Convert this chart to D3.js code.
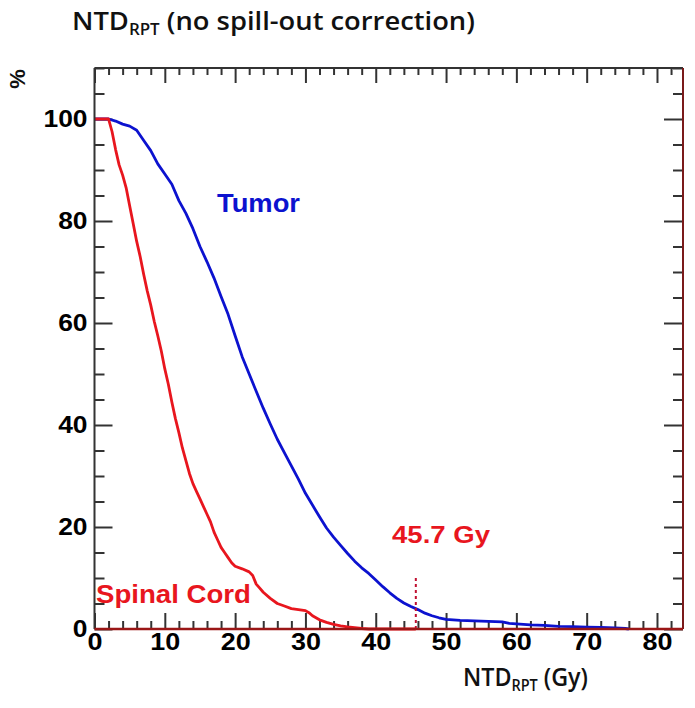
<!DOCTYPE html>
<html><head><meta charset="utf-8">
<script src="https://cdn.jsdelivr.net/npm/d3@7"></script>
<style>body{margin:0;background:#fff}</style>
</head><body>
<svg id="c" width="695" height="708"></svg>
<script>
// ---- data ----
const tumorDose = [0,1,2,3,4,5,6,7,8,9,10,11,12,13,14,15,16,17,18,19,20,21,22,23,24,25,26,27,28,29,30,31,32,33,34,35,36,37,38,39,40,41,42,43,44,45,46,47,48,49,50,52,54,56,58,59,60,62,64,66,68,70,72,74,75.5,76];
const tumorPct  = [100,100,100,99.6,99,98.6,97.8,95.8,93.8,91.2,89.2,87.2,84,81.5,78.5,75,72,68.8,65.2,61.7,57.5,53.4,50,46.6,43.3,40.2,37.2,34.6,32,29.4,26.6,24.3,22,19.8,18,16.4,14.8,13.3,12,10.9,9.6,8.3,7.1,6.0,5.1,4.4,3.8,3.1,2.6,2.2,1.9,1.7,1.6,1.5,1.4,1.1,1.0,0.8,0.7,0.5,0.45,0.35,0.3,0.2,0.1,0];
const cordDose = [0,1,2,2.5,3,3.5,4,4.5,5,5.5,6,6.5,7,7.5,8,8.5,9,9.5,10,10.5,11,11.5,12,12.5,13,13.5,14,14.5,15,15.5,16,16.5,17,17.5,18,18.5,19,19.5,20,21,22,22.5,23,23.5,24,25,26,27,28,29,30,30.5,31,32,33,34,35,36,37,38,39,45.7];
const cordPct  = [100,100,100,97.5,94,91,89,86.5,83,79.5,76,73,69.5,66.3,63.5,60.3,57.5,54.5,51,48,44.5,41.3,38.5,35.5,33,30.5,28.5,27,25.5,24,22.5,21,19,17.5,16,15,14,13,12.3,11.8,11.2,10.5,8.8,8,7.2,6,5,4.5,4,3.8,3.6,3.2,2.6,1.8,1.3,0.9,0.6,0.4,0.25,0.1,0,0];
const xTickValues = [0,10,20,30,40,50,60,70,80];
const yTickValues = [0,20,40,60,80,100];
const markerDose = 45.7;
const markerTop = 10;
const markerLabel = "45.7 Gy";
const seriesLabels = ["Tumor", "Spinal Cord"];

// ---- layout ----
const L = 94.5, R = 683, T = 68, B = 629;
const svg = d3.select("#c");
const x = d3.scaleLinear().domain([0, 83.7]).range([L, R]);
const y = d3.scaleLinear().domain([0, 110]).range([B, T]);
const blue = "#0c12cf", red = "#e8161e", dark = "#333";
const labFont = "'Liberation Sans', Arial, sans-serif";
const titleFont = "'Open Sans', Lato, sans-serif";

const xMinor = d3.range(0, 84, 2).filter(v => v % 10 !== 0);
const yMinor = d3.range(0, 111, 5).filter(v => v % 20 !== 0);

function styleAxis(g) {
  g.select(".domain").remove();
  g.selectAll(".tick line").attr("stroke", dark).attr("stroke-width", 2);
}
// bottom major + labels
const gb = svg.append("g").attr("transform", `translate(0,${B})`)
  .call(d3.axisBottom(x).tickValues(xTickValues).tickSizeInner(-16).tickSizeOuter(0).tickPadding(4).tickFormat(d3.format("d")));
styleAxis(gb);
gb.selectAll("text").attr("font-family", labFont).attr("font-weight", "bold").attr("font-size", 24.5).attr("fill", "#000");
svg.append("g").attr("transform", `translate(0,${B})`)
  .call(d3.axisBottom(x).tickValues(xMinor).tickSizeInner(-8).tickSizeOuter(0).tickFormat("")).call(styleAxis);
// top
svg.append("g").attr("transform", `translate(0,${T})`)
  .call(d3.axisTop(x).tickValues(xTickValues).tickSizeInner(-15).tickSizeOuter(0).tickFormat("")).call(styleAxis);
svg.append("g").attr("transform", `translate(0,${T})`)
  .call(d3.axisTop(x).tickValues(xMinor).tickSizeInner(-7).tickSizeOuter(0).tickFormat("")).call(styleAxis);
// left
const gl = svg.append("g").attr("transform", `translate(${L},0)`)
  .call(d3.axisLeft(y).tickValues(yTickValues).tickSizeInner(-18).tickSizeOuter(0).tickPadding(7).tickFormat(d3.format("d")));
styleAxis(gl);
gl.selectAll("text").attr("font-family", labFont).attr("font-weight", "bold").attr("font-size", 24).attr("fill", "#000");
svg.append("g").attr("transform", `translate(${L},0)`)
  .call(d3.axisLeft(y).tickValues(yMinor).tickSizeInner(-10).tickSizeOuter(0).tickFormat("")).call(styleAxis);
// right
svg.append("g").attr("transform", `translate(${R},0)`)
  .call(d3.axisRight(y).tickValues(yTickValues).tickSizeInner(-19).tickSizeOuter(0).tickFormat("")).call(styleAxis);
svg.append("g").attr("transform", `translate(${R},0)`)
  .call(d3.axisRight(y).tickValues(yMinor).tickSizeInner(-10).tickSizeOuter(0).tickFormat("")).call(styleAxis);

// stretch tick labels horizontally
[gb, gl].forEach(g => g.selectAll("text").each(function() {
  const w = this.getComputedTextLength();
  d3.select(this).attr("textLength", w * 1.1).attr("lengthAdjust", "spacingAndGlyphs");
}));

// curves
const line = d3.line().x(d => x(d[0])).y(d => y(d[1]));
svg.append("path").datum(tumorDose.map((d, i) => [d, tumorPct[i]]))
  .attr("d", line).attr("fill", "none").attr("stroke", blue).attr("stroke-width", 2.8).attr("stroke-linejoin", "round");
svg.append("path").datum(cordDose.map((d, i) => [d, cordPct[i]]))
  .attr("d", line).attr("fill", "none").attr("stroke", red).attr("stroke-width", 2.8).attr("stroke-linejoin", "round");

// marker
svg.append("line").attr("x1", x(markerDose)).attr("x2", x(markerDose)).attr("y1", y(0)).attr("y2", y(markerTop))
  .attr("stroke", "#c01030").attr("stroke-width", 2).attr("stroke-dasharray", "3,3");

// frame
svg.append("line").attr("x1", L).attr("x2", L).attr("y1", T).attr("y2", B).attr("stroke", dark).attr("stroke-width", 2);
svg.append("line").attr("x1", L).attr("x2", R).attr("y1", T).attr("y2", T).attr("stroke", dark).attr("stroke-width", 2);
svg.append("line").attr("x1", R).attr("x2", R).attr("y1", T).attr("y2", B).attr("stroke", "#7a1a1a").attr("stroke-width", 2);
svg.append("line").attr("x1", L).attr("x2", R).attr("y1", B).attr("y2", B).attr("stroke", "#9a1616").attr("stroke-width", 2.5);

// fitted label helper
function label(txt, px, py, size, width, color) {
  const t = svg.append("text").attr("x", px).attr("y", py).text(txt)
    .attr("font-family", labFont).attr("font-weight", "bold").attr("font-size", size).attr("fill", color);
  t.attr("textLength", width).attr("lengthAdjust", "spacingAndGlyphs");
  return t;
}
label(seriesLabels[0], 217, 212, 25.5, 83, blue);
label(seriesLabels[1], 96, 603, 25.5, 155, red);
label(markerLabel, 392, 543, 23, 98, red);

// % label
svg.append("text").attr("transform", "translate(25,79) rotate(-90)").attr("text-anchor", "middle")
  .attr("font-family", labFont).attr("font-weight", "bold").attr("font-size", 22).attr("fill", "#111").text("%");

// titles with subscript
function subTitle(px, py, size, width, main, sub, rest) {
  const g = svg.append("g").attr("transform", `translate(${px},${py})`);
  const t = g.append("text").attr("font-family", titleFont).attr("font-weight", 600).attr("font-size", size).attr("fill", "#111");
  t.append("tspan").text(main);
  t.append("tspan").attr("font-size", size * 0.62).attr("dy", size * 0.2).text(sub);
  t.append("tspan").attr("dy", -size * 0.2).text(rest);
  const w = t.node().getBBox().width;
  t.attr("transform", `scale(${width / w},1)`);
}
subTitle(72, 30, 25, 403, "NTD", "RPT", " (no spill-out correction)");
subTitle(463, 686, 25, 125, "NTD", "RPT", " (Gy)");
</script>
</body></html>
